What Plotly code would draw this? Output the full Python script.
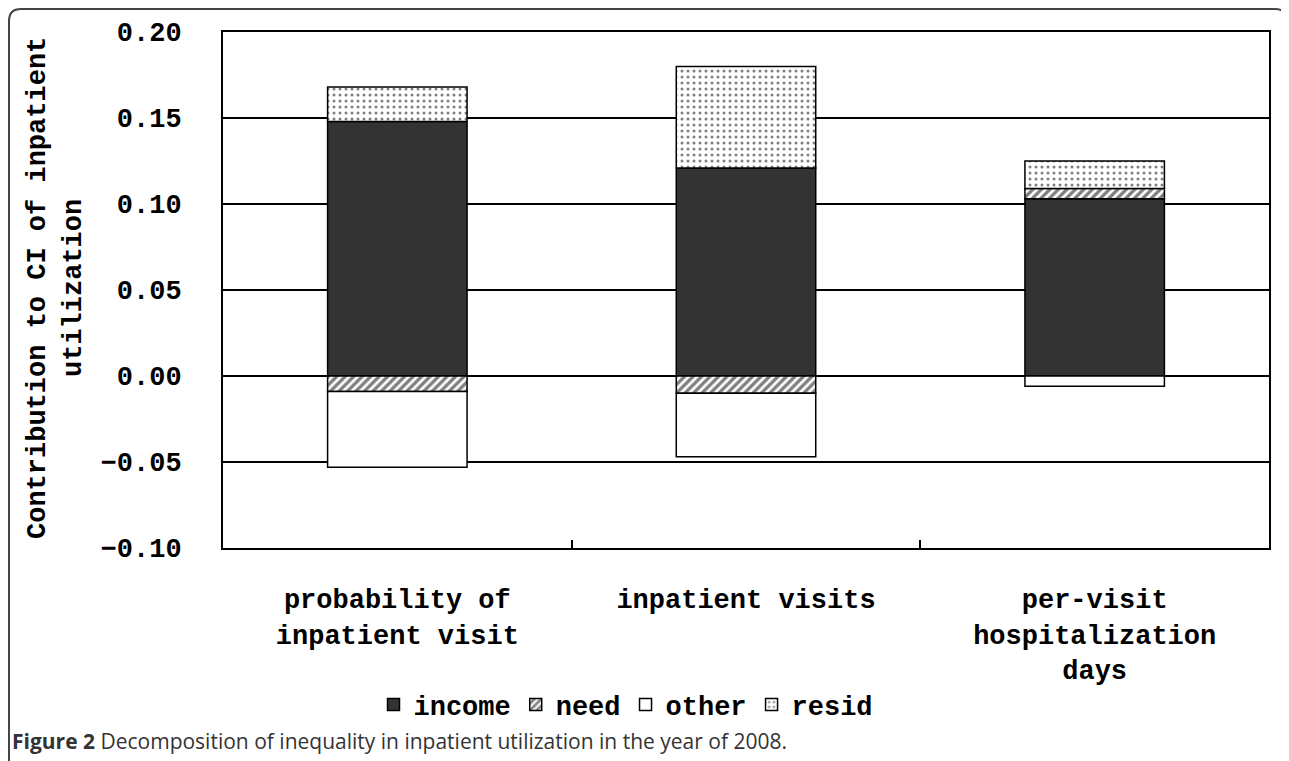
import plotly.graph_objects as go

categories = ["probability of<br>inpatient visit", "inpatient visits",
              "per-visit<br>hospitalization<br>days"]
income = [0.148, 0.121, 0.103]
need = [-0.009, -0.010, 0.006]
other = [-0.044, -0.037, -0.006]
resid = [0.020, 0.059, 0.016]
y_ticks = [-0.10, -0.05, 0.00, 0.05, 0.10, 0.15, 0.20]

# page has an 8px body margin: figure pixel = page pixel - 8
W, H = 1281, 753
ML, MR, MT, MB = 215, 20, 24, 213
PW, PH = W - ML - MR, H - MT - MB

def px(x):
    return (x - ML) / PW

def py(y):
    return (H - MB - y) / PH

MONO = "Liberation Mono"
FS = 27
bold_font = dict(family=MONO, size=FS, color="black", weight="bold")
line = dict(color="black", width=1.5)

fig = go.Figure()
fig.add_bar(x=categories, y=income, name="income",
            marker=dict(color="#333333", line=line))
fig.add_bar(x=categories, y=need, name="need",
            marker=dict(color="white", line=line,
                        pattern=dict(shape="/", fgcolor="black", bgcolor="white",
                                     size=6, solidity=0.55)))
fig.add_bar(x=categories, y=other, name="other",
            marker=dict(color="white", line=line))
fig.add_bar(x=categories, y=resid, name="resid",
            marker=dict(color="white", line=line,
                        pattern=dict(shape=".", fgcolor="black", bgcolor="white",
                                     size=6, solidity=0.2)))

fig.update_layout(
    width=W, height=H,
    barmode="relative", bargap=0.6,
    paper_bgcolor="white", plot_bgcolor="white",
    margin=dict(l=ML, r=MR, t=MT, b=MB, pad=0),
    font=dict(family=MONO, size=FS, color="black"),
    showlegend=True,
    legend=dict(orientation="h", x=px(618), xanchor="center", y=py(697), yanchor="middle",
                font=bold_font, itemwidth=30, traceorder="normal",
                bgcolor="rgba(0,0,0,0)"),
)

fig.update_xaxes(
    type="category", showline=True, linecolor="black", linewidth=2, mirror=True,
    showgrid=False, ticks="inside", ticklen=8, tickwidth=2, tickcolor="black",
    tickson="boundaries", ticklabelstandoff=26,
    tickfont=bold_font,
)
fig.update_yaxes(
    range=[-0.10, 0.20], tickvals=y_ticks, tickformat=".2f",
    showline=True, linecolor="black", linewidth=2, mirror=True,
    showgrid=True, gridcolor="black", gridwidth=2,
    zeroline=True, zerolinecolor="black", zerolinewidth=2,
    ticks="", ticklabelstandoff=34,
    tickfont=bold_font,
)

# y-axis title, two lines
for txt, xc in [("Contribution to CI of inpatient", 30), ("utilization", 66)]:
    fig.add_annotation(xref="paper", yref="paper", x=px(xc), y=py(280),
                       xanchor="center", yanchor="middle", textangle=-90,
                       showarrow=False, text=txt, font=bold_font)

# outer rounded frame
r = 12
x0, y0, x1 = 1, 1, 1279
fig.add_shape(type="path", xref="paper", yref="paper",
              path=(f"M {px(x0)},{py(H+5)} L {px(x0)},{py(y0+r)} "
                    f"Q {px(x0)},{py(y0)} {px(x0+r)},{py(y0)} "
                    f"L {px(x1-r)},{py(y0)} Q {px(x1)},{py(y0)} {px(x1)},{py(y0+r)} "
                    f"L {px(x1)},{py(H+5)}"),
              line=dict(color="#444444", width=2))

fig.add_annotation(xref="paper", yref="paper", x=px(2), y=py(733),
                   xanchor="left", yanchor="middle", showarrow=False,
                   text="<b>Figure 2</b> Decomposition of inequality in inpatient utilization in the year of 2008.",
                   font=dict(family="Open Sans", size=21, color="#333333"))

fig.write_html("out.html")
